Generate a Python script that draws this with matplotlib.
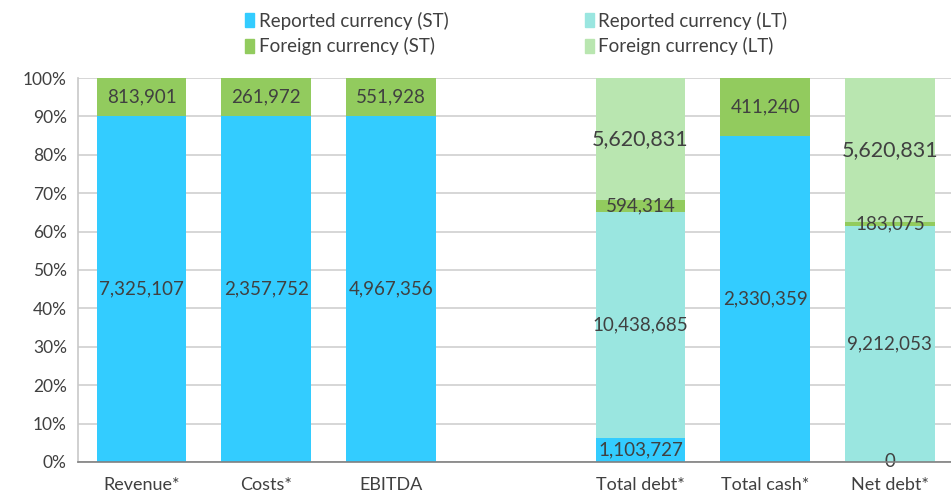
import matplotlib.pyplot as plt
import numpy as np
from matplotlib.patches import Patch

plt.rcParams['font.family'] = ['Lato', 'DejaVu Sans']

categories = ['Revenue*', 'Costs*', 'EBITDA', '', 'Total debt*', 'Total cash*', 'Net debt*']
reported_st = [7325107, 2357752, 4967356, None, 1103727, 2330359, 0]
reported_lt = [None, None, None, None, 10438685, None, 9212053]
foreign_st = [813901, 261972, 551928, None, 594314, 411240, 183075]
foreign_lt = [None, None, None, None, 5620831, None, 5620831]

series = [
    ('Reported currency (ST)', reported_st, '#33CCFF', 13.5),
    ('Reported currency (LT)', reported_lt, '#9AE6E0', 13.5),
    ('Foreign currency (ST)', foreign_st, '#92CB5E', 13.5),
    ('Foreign currency (LT)', foreign_lt, '#B9E6B0', 15.5),
]

vals = np.array([[np.nan if v is None else v for v in s[1]] for s in series], dtype=float)
totals = np.nansum(vals, axis=0)
totals[totals == 0] = 1

fig = plt.figure(figsize=(9.51, 4.94), dpi=100)
ax = fig.add_axes([0.082, 0.065, 0.918, 0.777])

x = np.arange(len(categories))
bottom = np.zeros(len(categories))
for i, (name, _, color, fs) in enumerate(series):
    share = np.nan_to_num(vals[i]) / totals * 100
    ax.bar(x + 0.01, share, 0.72, bottom=bottom, color=color, zorder=2)
    for j in range(len(categories)):
        if not np.isnan(vals[i][j]):
            ax.text(x[j] + 0.01, bottom[j] + share[j] / 2, f'{int(vals[i][j]):,}',
                    ha='center', va='center', fontsize=fs, color='#404040', zorder=3)
    bottom += share

ax.set_xlim(-0.5, len(categories) - 0.5)
ax.set_ylim(0, 100)
ax.set_yticks(np.arange(0, 101, 10))
ax.set_yticklabels([f'{t}%' for t in range(0, 101, 10)], fontsize=12.5, color='#404040')
ax.set_xticks(x + 0.01)
ax.set_xticklabels(categories, fontsize=13, color='#404040')
ax.tick_params(axis='x', length=0, pad=11)
ax.tick_params(axis='y', length=0, pad=8)
ax.grid(axis='y', color='#D0D0D0', linewidth=1.2, zorder=0)
for s in ['top', 'right']:
    ax.spines[s].set_visible(False)
ax.spines['left'].set_color('#C8C8C8')
ax.spines['left'].set_linewidth(1.2)
ax.spines['bottom'].set_color('#808080')
ax.spines['bottom'].set_linewidth(1.2)
ax.spines['bottom'].set_zorder(4)

handles = [Patch(color=s[2]) for s in series]
labels = [s[0] for s in series]
order = [0, 2, 1, 3]
fig.legend([handles[k] for k in order], [labels[k] for k in order], ncol=2,
           loc='center', bbox_to_anchor=(0.543, 0.932), frameon=False,
           fontsize=13.5, handlelength=0.45, handleheight=0.75, handletextpad=0.25,
           columnspacing=7.3, labelspacing=0.4, labelcolor='#404040')

fig.savefig('out.png', dpi=100)
